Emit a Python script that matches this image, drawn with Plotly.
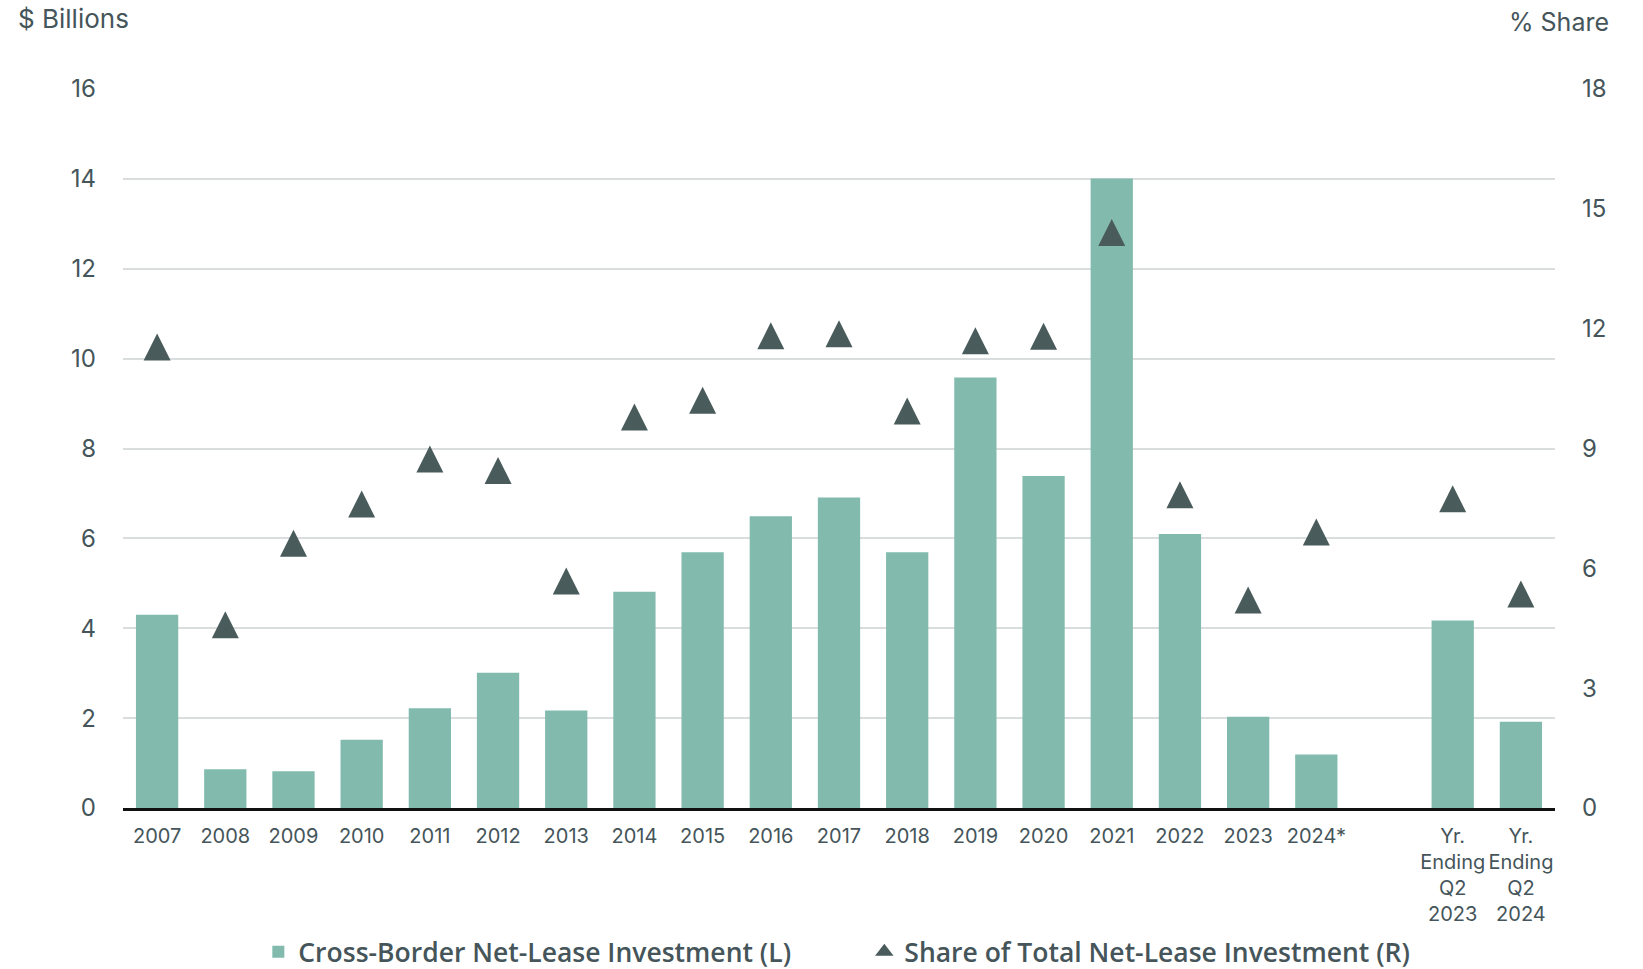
import plotly.graph_objects as go

# Category slots along the x axis (one empty slot separates the annual years
# from the trailing-year figures)
categories = [
    "2007", "2008", "2009", "2010", "2011", "2012", "2013", "2014", "2015",
    "2016", "2017", "2018", "2019", "2020", "2021", "2022", "2023", "2024*",
    " ",
    "Yr.<br>Ending<br>Q2<br>2023", "Yr.<br>Ending<br>Q2<br>2024",
]

# Cross-border net-lease investment, $ billions (left axis)
investment = [
    4.30, 0.86, 0.82, 1.52, 2.22, 3.01, 2.17, 4.81, 5.69,
    6.49, 6.91, 5.69, 9.58, 7.39, 14.01, 6.10, 2.03, 1.19,
    None,
    4.17, 1.92,
]

# Share of total net-lease investment, % (right axis)
share = [
    11.54, 4.59, 6.63, 7.61, 8.74, 8.45, 5.68, 9.79, 10.21,
    11.82, 11.87, 9.94, 11.70, 11.81, 14.41, 7.84, 5.21, 6.91,
    None,
    7.74, 5.36,
]

left_ticks = [0, 2, 4, 6, 8, 10, 12, 14, 16]
right_ticks = [0, 3, 6, 9, 12, 15, 18]

BAR_NAME = "Cross-Border Net-Lease Investment (L)"
SHARE_NAME = "Share of Total Net-Lease Investment (R)"

BAR_COLOR = "#82bbad"
MARKER_COLOR = "#4a5b5c"
TEXT_COLOR = "#45555a"
GRID_COLOR = "#d9dddd"
FONT = "Inter"

fig = go.Figure()

fig.add_trace(go.Bar(
    x=categories,
    y=investment,
    name=BAR_NAME,
    marker=dict(color=BAR_COLOR, line=dict(width=0)),
    yaxis="y",
))

# Upward triangle centred on each value: an inverted arrow rotated 180 degrees
# and pulled back by half its height.
tri_size = 27
fig.add_trace(go.Scatter(
    x=categories,
    y=share,
    name=SHARE_NAME,
    legendgroup="share",
    showlegend=False,
    mode="markers",
    marker=dict(
        symbol="arrow-down",
        angle=180,
        standoff=tri_size / 2,
        size=tri_size,
        color=MARKER_COLOR,
        line=dict(width=0),
    ),
    yaxis="y2",
))

# Legend entry for the share series, using a plain triangle glyph
fig.add_trace(go.Scatter(
    x=[None],
    y=[None],
    name=SHARE_NAME,
    legendgroup="share",
    mode="markers",
    marker=dict(symbol="triangle-up", size=16, color=MARKER_COLOR),
    yaxis="y2",
))

fig.update_layout(
    width=1643,
    height=969,
    margin=dict(l=123, r=88, t=89, b=161, autoexpand=False),
    paper_bgcolor="white",
    plot_bgcolor="white",
    bargap=0.38,
    font=dict(family=FONT, color=TEXT_COLOR),
    showlegend=True,
    legend=dict(
        orientation="h",
        xref="paper",
        x=0.0945,
        xanchor="left",
        yref="container",
        y=0.0175,
        yanchor="middle",
        entrywidth=561,
        entrywidthmode="pixels",
        font=dict(size=26.5, color=TEXT_COLOR, family="Open Sans", weight=600),
        bgcolor="rgba(0,0,0,0)",
    ),
    xaxis=dict(
        type="category",
        categoryorder="array",
        categoryarray=categories,
        showgrid=False,
        showline=True,
        linecolor="#111111",
        linewidth=3,
        ticks="",
        ticklabelstandoff=8,
        tickfont=dict(size=20, color=TEXT_COLOR),
        zeroline=False,
        automargin=False,
        range=[-0.5, len(categories) - 0.5],
    ),
    yaxis=dict(
        range=[0, 16],
        tickvals=left_ticks,
        showgrid=True,
        gridcolor=GRID_COLOR,
        gridwidth=1.5,
        zeroline=False,
        showline=False,
        ticks="",
        ticklabelstandoff=26,
        automargin=False,
        tickfont=dict(size=24, color=TEXT_COLOR),
    ),
    yaxis2=dict(
        range=[0, 18],
        tickvals=right_ticks,
        overlaying="y",
        side="right",
        showgrid=False,
        zeroline=False,
        showline=False,
        ticks="",
        ticklabelstandoff=26,
        automargin=False,
        tickfont=dict(size=24, color=TEXT_COLOR),
    ),
    annotations=[
        dict(
            text="$ Billions",
            xref="paper", yref="paper",
            x=-0.0746, y=1.0987,
            xanchor="left", yanchor="middle",
            showarrow=False,
            font=dict(size=26, color=TEXT_COLOR),
        ),
        dict(
            text="% Share",
            xref="paper", yref="paper",
            x=1.039, y=1.093,
            xanchor="right", yanchor="middle",
            showarrow=False,
            font=dict(size=25, color=TEXT_COLOR),
        ),
    ],
)

fig.write_html("out.html")
